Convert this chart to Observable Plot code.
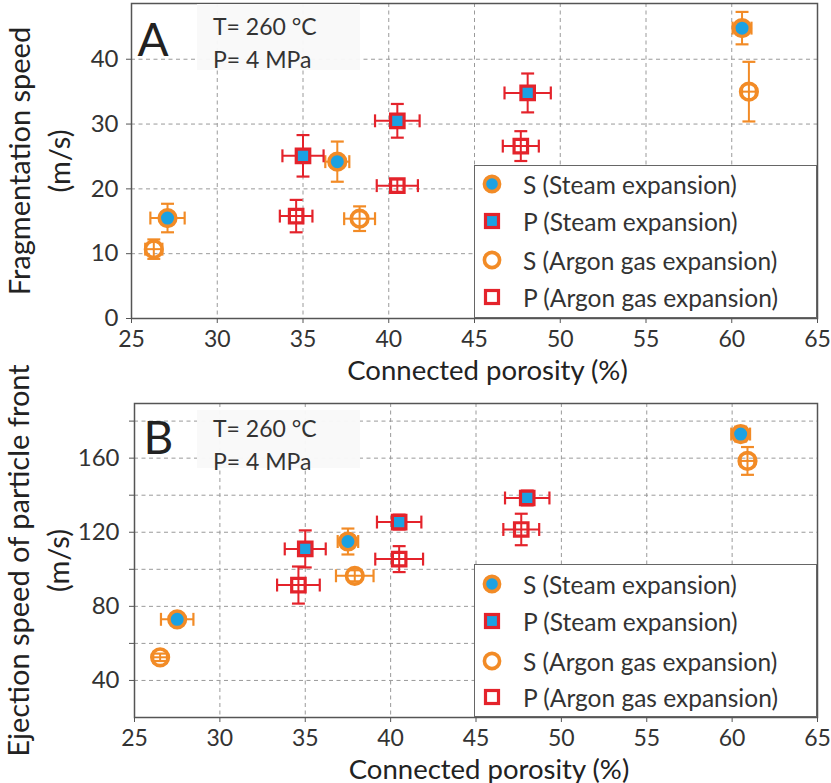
<!DOCTYPE html>
<html>
<head>
<meta charset="utf-8">
<script src="https://cdn.jsdelivr.net/npm/d3@7"></script>
<script src="https://cdn.jsdelivr.net/npm/@observablehq/plot@0.6"></script>
<style>
  body { margin: 0; background: #fff; font-family: Lato, "Open Sans", sans-serif; }
  #fig { position: relative; width: 831px; height: 783px; overflow: hidden; }
  .panel { position: absolute; left: 0; }
  .note { position: absolute; background: rgba(249,249,249,0.96); color: #333; font-size: 23px; line-height: 33px; box-sizing: border-box; padding: 6px 0 0 16px; }
  .legend { position: absolute; background: #fff; border: 1px solid #666; box-sizing: border-box; }
  .legend .row { position: absolute; left: 0; height: 30px; display: flex; align-items: center; font-size: 24.5px; color: #333; white-space: nowrap; }
  .legend svg { margin: 0 20px 0 6px; }
</style>
</head>
<body>
<div id="fig"></div>
<script>
// Series shared by both panels
const seriesNames = ["S (Steam expansion)", "P (Steam expansion)", "S (Argon gas expansion)", "P (Argon gas expansion)"];
const seriesStroke = ["#f28b26", "#e4232b", "#f28b26", "#e4232b"];
const seriesFill = ["#1ba1e2", "#1ba1e2", "none", "none"];
const seriesSymbol = ["circle", "square", "circle", "square"];

// Panel A: fragmentation speed vs connected porosity
const porosityA    = [[27.1, 37.0, 60.6], [35.0, 40.5, 48.1], [26.3, 38.3, 61.0], [34.6, 40.5, 47.7]];
const porosityErrA = [[1.0, 0.7, 0.55],   [1.2, 1.3, 1.35],   [0.5, 0.9, 0.4],    [0.95, 1.2, 1.05]];
const fragSpeed    = [[15.5, 24.2, 44.8], [25.1, 30.5, 34.8], [10.7, 15.4, 35.0], [15.8, 20.5, 26.6]];
const fragSpeedErr = [[2.2, 3.1, 2.5],    [3.2, 2.6, 3.0],    [1.5, 1.9, 4.6],    [2.5, 1.0, 2.3]];

// Panel B: ejection speed of particle front vs connected porosity
const porosityB     = [[27.5, 37.5, 60.5], [35.0, 40.5, 48.0], [26.5, 37.9, 60.9], [34.6, 40.5, 47.65]];
const porosityErrB  = [[0.95, 0.6, 0.55],  [1.2, 1.3, 1.3],    [0.4, 1.1, 0.4],    [1.25, 1.4, 1.05]];
const ejectSpeed    = [[73, 115, 173],     [111, 125.5, 138.5], [52.5, 96.5, 158.5], [91.5, 105.5, 121.5]];
const ejectSpeedErr = [[3, 7, 4],          [10, 4, 4],          [2, 3, 7.5],         [10, 7, 8.5]];

// Axis ticks
const xTicks = [25, 30, 35, 40, 45, 50, 55, 60, 65];
const xGrid = [30, 35, 40, 45, 50, 55, 60];
const yTicksA = [0, 10, 20, 30, 40];
const yGridA = [10, 20, 30, 40];
const yTicksB = [40, 60, 80, 100, 120, 140, 160, 180];
const yLabelsB = [40, 80, 120, 160];

const noteLines = ["T= 260 °C", "P= 4 MPa"];
const xTitle = "Connected porosity (%)";

// Error-bar caps as line symbols
const capV = { draw(ctx, size) { const w = Math.sqrt(size) / 2; ctx.moveTo(0, -w); ctx.lineTo(0, w); } };
const capH = { draw(ctx, size) { const w = Math.sqrt(size) / 2; ctx.moveTo(-w, 0); ctx.lineTo(w, 0); } };

const gridStyle = { stroke: "#9a9a9a", strokeOpacity: 1, strokeWidth: 1, strokeDasharray: "4,3.5" };

function panel(cfg) {
  const marks = [
    Plot.gridX(xGrid, gridStyle),
    Plot.gridY(cfg.yGrid, gridStyle),
    Plot.axisX({ ticks: xTicks, tickSize: 5, tickPadding: 7, fontSize: 23, label: null, stroke: "#555" }),
    Plot.axisY({ ticks: cfg.yTicks, tickFormat: d => cfg.yLabels.includes(d) ? String(d) : "", tickSize: 5, tickPadding: cfg.yPad, fontSize: 24, label: null, stroke: "#555" })
  ];
  const rowsBySeries = seriesNames.map((name, k) =>
    cfg.xs[k].map((x, i) => ({ name, x, y: cfg.ys[k][i], xe: cfg.xe[k][i], ye: cfg.ye[k][i] })));
  // error bars with caps
  rowsBySeries.forEach((rows, k) => {
    const c = seriesStroke[k];
    const bar = { stroke: c, strokeWidth: 2 };
    const cap = { stroke: c, strokeWidth: 2.2, fill: "none", r: 7.3 };
    marks.push(
      Plot.link(rows, { x1: d => d.x - d.xe, x2: d => d.x + d.xe, y1: "y", y2: "y", ...bar }),
      Plot.link(rows, { x1: "x", x2: "x", y1: d => d.y - d.ye, y2: d => d.y + d.ye, ...bar }),
      Plot.dot(rows, { x: d => d.x - d.xe, y: "y", symbol: capV, ...cap }),
      Plot.dot(rows, { x: d => d.x + d.xe, y: "y", symbol: capV, ...cap }),
      Plot.dot(rows, { x: "x", y: d => d.y - d.ye, symbol: capH, ...cap }),
      Plot.dot(rows, { x: "x", y: d => d.y + d.ye, symbol: capH, ...cap })
    );
  });
  // markers
  rowsBySeries.forEach((rows, k) => {
    const isCircle = seriesSymbol[k] === "circle";
    marks.push(Plot.dot(rows, {
      x: "x", y: "y", symbol: seriesSymbol[k],
      r: isCircle ? 8.3 : 7.6,
      fill: seriesFill[k], stroke: seriesStroke[k],
      strokeWidth: isCircle ? 3.6 : 3.2
    }));
  });
  marks.push(
    Plot.frame({ stroke: "#555", strokeWidth: 1.5 }),
    Plot.text([cfg.letter], { text: d => d, frameAnchor: "top-left", dx: cfg.letterDx, dy: cfg.letterDy, fontSize: 46, lineAnchor: "top", textAnchor: "start", fill: "#222" }),
    Plot.text([xTitle], { text: d => d, frameAnchor: "bottom", dx: 13, dy: cfg.xTitleDy, fontSize: 27.5, lineAnchor: "bottom", fill: "#222" }),
    Plot.text([cfg.yTitle], { text: d => d, frameAnchor: "left", dx: cfg.yTitleDx, rotate: -90, fontSize: 29, lineHeight: 1.38, lineAnchor: "middle", textAnchor: "middle", fill: "#222" })
  );
  return Plot.plot({
    width: 831,
    height: cfg.height,
    marginLeft: cfg.marginLeft,
    marginRight: cfg.marginRight,
    marginTop: cfg.marginTop,
    marginBottom: cfg.marginBottom,
    x: { domain: [25, 65] },
    y: { domain: cfg.yDomain },
    style: { fontFamily: "Lato, 'Open Sans', sans-serif", fontSize: "24px", color: "#333", background: "transparent", overflow: "visible" },
    marks
  });
}

const fig = document.getElementById("fig");

function addPanel(svg, top, cfg) {
  const holder = document.createElement("div");
  holder.className = "panel";
  holder.style.top = top + "px";
  holder.appendChild(svg);
  fig.appendChild(holder);

  const note = document.createElement("div");
  note.className = "note";
  Object.assign(note.style, cfg.noteBox);
  note.innerHTML = noteLines.map(t => `<div>${t}</div>`).join("");
  fig.appendChild(note);

  const legend = document.createElement("div");
  legend.className = "legend";
  Object.assign(legend.style, cfg.legendBox);
  seriesNames.forEach((name, k) => {
    const row = document.createElement("div");
    row.className = "row";
    row.style.top = cfg.legendRows[k] + "px";
    const shape = seriesSymbol[k] === "circle"
      ? `<circle cx="11" cy="11" r="7.6" fill="${seriesFill[k]}" stroke="${seriesStroke[k]}" stroke-width="3.6"/>`
      : `<rect x="4.5" y="4.5" width="13" height="13" fill="${seriesFill[k]}" stroke="${seriesStroke[k]}" stroke-width="3.2"/>`;
    row.innerHTML = `<svg width="22" height="22">${shape}</svg><span>${name}</span>`;
    legend.appendChild(row);
  });
  fig.appendChild(legend);
}

addPanel(panel({
  xs: porosityA, xe: porosityErrA, ys: fragSpeed, ye: fragSpeedErr,
  yDomain: [0, 48.6], yTicks: yTicksA, yLabels: yTicksA, yGrid: yGridA, yPad: 8,
  height: 390, marginLeft: 131, marginRight: 14, marginTop: 3, marginBottom: 72,
  letter: "A", letterDx: 6, letterDy: 20, xTitleDy: 61, yTitleDx: -94,
  yTitle: "Fragmentation speed\n(m/s)"
}), 0, {
  noteBox: { left: "197px", top: "4px", width: "163px", height: "66px" },
  legendBox: { left: "474px", top: "165px", width: "343px", height: "153px" },
  legendRows: [3, 40, 79, 116]
});

addPanel(panel({
  xs: porosityB, xe: porosityErrB, ys: ejectSpeed, ye: ejectSpeedErr,
  yDomain: [20, 189.5], yTicks: yTicksB, yLabels: yLabelsB, yGrid: yTicksB, yPad: 10,
  height: 393, marginLeft: 134, marginRight: 14, marginTop: 13, marginBottom: 66,
  letter: "B", letterDx: 9, letterDy: 18, xTitleDy: 61, yTitleDx: -98,
  yTitle: "Ejection speed of particle front\n(m/s)"
}), 390, {
  noteBox: { left: "197px", top: "410px", width: "163px", height: "58px", paddingTop: "2px" },
  legendBox: { left: "474px", top: "564px", width: "343px", height: "153px" },
  legendRows: [4, 41, 81, 117]
});
</script>
</body>
</html>
